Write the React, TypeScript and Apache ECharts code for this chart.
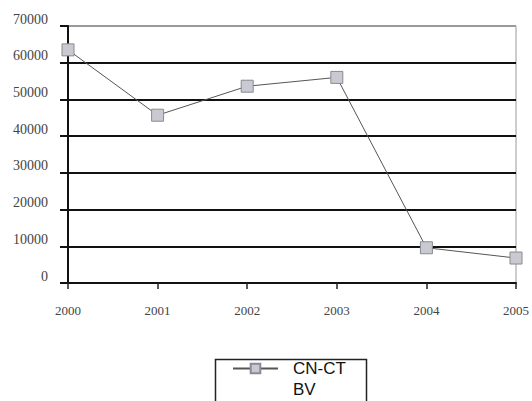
import React, { useEffect, useRef } from "react";
import * as echarts from "echarts";

const years = ["2000", "2001", "2002", "2003", "2004", "2005"];
const values = [63500, 45700, 53600, 56000, 9600, 6800];
const seriesName = "CN-CT BV";

const serif = "'Liberation Serif', 'DejaVu Serif', serif";
const sans = "'Liberation Sans', Arial, sans-serif";

export default function App() {
  const ref = useRef<HTMLDivElement>(null);

  useEffect(() => {
    if (!ref.current) return;
    const chart = echarts.init(ref.current, null, { renderer: "svg" });
    chart.setOption({
      animation: false,
      backgroundColor: "#fff",
      grid: {
        left: 68,
        right: 15,
        top: 26,
        bottom: 118,
        show: true,
        borderColor: "#9a9a9a",
        borderWidth: 1,
      },
      xAxis: {
        type: "category",
        data: years,
        boundaryGap: false,
        axisLine: { lineStyle: { color: "#111", width: 2 } },
        axisTick: { show: true, length: 6, lineStyle: { color: "#222", width: 1.5 } },
        axisLabel: { color: "#444", fontFamily: serif, fontSize: 13, margin: 21 },
        splitLine: { show: false },
      },
      yAxis: {
        type: "value",
        min: 0,
        max: 70000,
        interval: 10000,
        axisLine: { show: true, lineStyle: { color: "#111", width: 2 } },
        axisTick: { show: true, length: 8, lineStyle: { color: "#111", width: 2 } },
        axisLabel: {
          color: "#444",
          fontFamily: serif,
          fontSize: 14,
          margin: 20,
          verticalAlign: "bottom",
          formatter: (v: number) => String(v),
        },
        splitLine: {
          show: true,
          lineStyle: {
            color: ["#111", "#111", "#111", "#111", "#111", "#111", "#111", "#9a9a9a"],
            width: 2,
          },
        },
      },
      legend: {
        show: true,
        left: 232,
        top: 337,
        padding: 0,
        itemWidth: 45,
        itemHeight: 12,
        // leading blank line keeps the marker level with the first text line
        formatter: () => "\nCN-CT\nBV",
        textStyle: {
          fontFamily: sans,
          fontSize: 17,
          lineHeight: 21,
          color: "#111",
          padding: [0, 0, 0, 10],
        },
      },
      graphic: [
        {
          type: "rect",
          left: 213,
          top: 357,
          shape: { width: 151, height: 70 },
          style: { fill: "none", stroke: "#222", lineWidth: 1.5 },
          silent: true,
        },
      ],
      series: [
        {
          name: seriesName,
          type: "line",
          data: values,
          symbol: "rect",
          symbolSize: 12,
          lineStyle: { color: "#555", width: 1 },
          itemStyle: { color: "#c9c9d2", borderColor: "#8a8a92", borderWidth: 1 },
        },
      ],
    });
    return () => chart.dispose();
  }, []);

  return (
    <div
      ref={ref}
      style={{ position: "absolute", left: 0, top: 0, width: 532, height: 401, overflow: "hidden" }}
    />
  );
}
